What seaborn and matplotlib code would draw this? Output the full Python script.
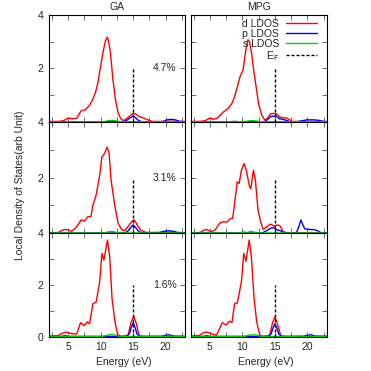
import pandas as pd
import seaborn as sns
import matplotlib.pyplot as plt
from matplotlib.lines import Line2D
from matplotlib.ticker import FixedLocator

# LDOS curves (energy in eV, LDOS in arb. units)
# GA, 4.7 %
ga47_d_e = [2.1, 3.5, 4.3, 5.0, 5.7, 6.3, 7.0, 7.6, 8.2, 8.7, 9.2, 9.6, 10.0, 10.4, 10.7, 11.0, 11.2, 11.5,
            11.9, 12.3, 12.7, 13.1, 13.5, 14.0, 14.5, 15.0, 15.4, 15.8, 16.2, 16.6, 17.2, 18.0, 19.0, 21.0, 23.0]
ga47_d = [0.02, 0.02, 0.05, 0.15, 0.12, 0.14, 0.42, 0.45, 0.6, 0.8, 1.1, 1.5, 2.1, 2.65, 3.0, 3.17, 3.05, 2.6,
          1.55, 0.8, 0.33, 0.12, 0.05, 0.13, 0.22, 0.33, 0.3, 0.22, 0.18, 0.15, 0.08, 0.02, 0.02, 0.03, 0.02]
ga47_p_e = [2.1, 13.5, 14.0, 14.5, 15.0, 15.4, 15.8, 16.3, 19.5, 20.2, 20.8, 21.5, 22.2, 23.0]
ga47_p = [0.01, 0.01, 0.06, 0.15, 0.22, 0.15, 0.06, 0.01, 0.01, 0.08, 0.1, 0.08, 0.02, 0.01]
ga47_s_e = [2.1, 10.5, 11.2, 11.8, 12.4, 13.0, 23.0]
ga47_s = [0.01, 0.01, 0.05, 0.06, 0.04, 0.01, 0.01]

# MPG, 4.7 %
mpg47_d_e = [2.1, 3.5, 4.3, 5.0, 5.6, 6.2, 7.0, 7.8, 8.4, 8.8, 9.2, 9.6, 10.1, 10.5, 10.85, 11.1, 11.4, 11.7,
             12.0, 12.5, 13.0, 13.5, 13.9, 14.3, 14.8, 15.3, 15.8, 16.3, 16.9, 17.3, 17.6, 18.5, 21.0, 23.0]
mpg47_d = [0.02, 0.02, 0.05, 0.15, 0.1, 0.15, 0.36, 0.5, 0.7, 0.95, 1.3, 1.67, 1.95, 2.65, 3.07, 3.0, 2.6, 2.0,
           1.5, 0.67, 0.24, 0.06, 0.15, 0.3, 0.32, 0.3, 0.18, 0.16, 0.14, 0.08, 0.02, 0.02, 0.02, 0.02]
mpg47_p_e = [2.1, 13.5, 14.0, 14.4, 15.2, 15.7, 16.2, 16.8, 17.3, 18.5, 19.2, 20.0, 21.0, 21.8, 22.5, 23.0]
mpg47_p = [0.01, 0.01, 0.12, 0.21, 0.22, 0.12, 0.1, 0.06, 0.01, 0.01, 0.05, 0.08, 0.08, 0.06, 0.02, 0.01]
mpg47_s_e = [2.1, 8.0, 8.8, 9.5, 10.5, 11.3, 12.0, 12.8, 23.0]
mpg47_s = [0.01, 0.01, 0.03, 0.01, 0.02, 0.05, 0.04, 0.01, 0.01]

# GA, 3.1 %
ga31_d_e = [2.1, 3.5, 4.0, 4.5, 5.0, 5.5, 6.2, 7.0, 7.5, 8.05, 8.5, 8.8, 9.3, 9.85, 10.2, 10.6, 11.0, 11.3,
            11.6, 12.2, 12.7, 13.3, 13.7, 14.2, 14.7, 15.1, 15.4, 15.7, 16.2, 17.0, 18.0, 20.0, 21.0, 23.0]
ga31_d = [0.02, 0.03, 0.1, 0.14, 0.12, 0.07, 0.2, 0.48, 0.44, 0.6, 0.6, 1.01, 1.37, 2.09, 2.75, 2.87, 3.1, 2.87,
          1.91, 0.95, 0.35, 0.11, 0.1, 0.24, 0.4, 0.48, 0.4, 0.26, 0.11, 0.03, 0.03, 0.04, 0.04, 0.02]
ga31_p_e = [2.1, 13.6, 14.2, 14.6, 15.0, 15.4, 15.8, 16.3, 19.0, 19.6, 20.5, 21.3, 21.8, 23.0]
ga31_p = [0.01, 0.01, 0.08, 0.2, 0.3, 0.2, 0.08, 0.01, 0.01, 0.07, 0.09, 0.07, 0.02, 0.01]
ga31_s_e = [2.1, 10.5, 11.3, 11.8, 12.4, 13.0, 23.0]
ga31_s = [0.01, 0.01, 0.06, 0.07, 0.03, 0.01, 0.01]

# MPG, 3.1 %
mpg31_d_e = [2.1, 3.5, 4.0, 4.5, 5.2, 5.8, 6.5, 7.05, 7.6, 8.05, 8.5, 8.8, 9.2, 9.5, 9.85, 10.25, 10.6, 11.1,
             11.3, 11.7, 12.0, 12.4, 12.8, 13.2, 13.8, 14.3, 14.9, 15.4, 15.8, 16.3, 17.0, 20.0, 23.0]
mpg31_d = [0.02, 0.03, 0.1, 0.14, 0.05, 0.12, 0.36, 0.42, 0.4, 0.51, 0.54, 1.07, 1.85, 1.79, 2.27, 2.51, 2.27, 1.67,
           1.6, 2.27, 1.91, 0.84, 0.42, 0.14, 0.24, 0.33, 0.26, 0.3, 0.26, 0.05, 0.02, 0.02, 0.02]
mpg31_p_e = [2.1, 13.0, 13.8, 14.3, 14.8, 15.3, 15.8, 16.3, 16.7, 18.3, 18.7, 19.0, 19.3, 19.6, 20.2, 21.0,
             21.5, 22.0, 23.0]
mpg31_p = [0.01, 0.01, 0.1, 0.18, 0.2, 0.12, 0.1, 0.03, 0.01, 0.01, 0.25, 0.48, 0.3, 0.16, 0.14, 0.13,
           0.1, 0.03, 0.01]
mpg31_s_e = [2.1, 9.5, 10.2, 10.7, 11.3, 11.8, 12.3, 23.0]
mpg31_s = [0.01, 0.01, 0.05, 0.02, 0.07, 0.04, 0.01, 0.01]

# GA, 1.6 %
ga16_d_e = [2.1, 3.4, 4.0, 4.7, 5.5, 6.3, 6.9, 7.5, 7.95, 8.3, 8.8, 9.3, 9.85, 10.2, 10.5, 10.9, 11.05, 11.4,
            11.75, 12.2, 12.6, 13.0, 14.2, 14.7, 15.1, 15.5, 15.9, 16.5, 23.0]
ga16_d = [0.02, 0.04, 0.12, 0.18, 0.12, 0.1, 0.54, 0.43, 0.57, 0.5, 1.28, 1.33, 2.12, 3.22, 2.96, 3.54, 3.74, 3.05,
          1.47, 0.58, 0.1, 0.01, 0.04, 0.57, 0.79, 0.5, 0.04, 0.01, 0.01]
ga16_p_e = [2.1, 4.0, 4.5, 5.0, 13.8, 14.4, 14.7, 15.0, 15.3, 15.6, 16.1, 19.3, 20.0, 20.6, 21.2, 23.0]
ga16_p = [0.01, 0.01, 0.04, 0.01, 0.01, 0.1, 0.35, 0.54, 0.35, 0.1, 0.01, 0.01, 0.06, 0.07, 0.02, 0.01]
ga16_s_e = [2.1, 10.3, 11.0, 11.6, 12.3, 12.8, 23.0]
ga16_s = [0.01, 0.01, 0.06, 0.08, 0.06, 0.01, 0.01]

# MPG, 1.6 %
mpg16_d_e = [2.1, 3.4, 4.0, 4.5, 5.2, 6.0, 6.9, 7.5, 8.0, 8.4, 8.8, 9.2, 9.85, 10.2, 10.55, 11.05, 11.4, 11.8,
             12.2, 12.7, 13.2, 14.2, 14.6, 15.0, 15.4, 15.9, 16.5, 23.0]
mpg16_d = [0.02, 0.05, 0.15, 0.18, 0.12, 0.05, 0.54, 0.45, 0.6, 0.55, 1.28, 1.3, 2.12, 3.22, 2.92, 3.74, 3.05, 1.47,
           0.58, 0.04, 0.01, 0.04, 0.5, 0.77, 0.5, 0.04, 0.01, 0.01]
mpg16_p_e = [2.1, 4.0, 4.5, 5.0, 13.8, 14.4, 14.7, 15.0, 15.3, 15.6, 16.1, 19.3, 20.0, 20.6, 21.2, 23.0]
mpg16_p = [0.01, 0.01, 0.04, 0.01, 0.01, 0.1, 0.33, 0.5, 0.33, 0.1, 0.01, 0.01, 0.06, 0.07, 0.02, 0.01]
mpg16_s_e = [2.1, 10.3, 11.0, 11.6, 12.3, 12.8, 23.0]
mpg16_s = [0.01, 0.01, 0.06, 0.07, 0.06, 0.01, 0.01]

orbitals = ['d LDOS', 'p LDOS', 's LDOS']
colors = ['#ff0000', '#0000ff', '#00d000']
strain_labels = ['4.7%', '3.1%', '1.6%']
fermi_energy = 15.0
fermi_height = 2.0


def panel_frame(e_d, d, e_p, p, e_s, s):
    parts = []
    for name, e, v in zip(orbitals, (e_d, e_p, e_s), (d, p, s)):
        parts.append(pd.DataFrame({'energy': e, 'ldos': v, 'orbital': name}))
    return pd.concat(parts, ignore_index=True)


sns.set_style('ticks')
plt.rcParams['font.family'] = ['Liberation Sans', 'DejaVu Sans']
plt.rcParams['font.size'] = 7.5

fig = plt.figure(figsize=(3.71, 3.71), dpi=100)

# axes rectangles (left, bottom, width, height) for the 3x2 stack
cols = [0.133, 0.515]
width = 0.366
rows = [(0.6712, 0.2884), (0.3712, 0.300), (0.0925, 0.2787)]

frames = [
    [panel_frame(ga47_d_e, ga47_d, ga47_p_e, ga47_p, ga47_s_e, ga47_s),
     panel_frame(mpg47_d_e, mpg47_d, mpg47_p_e, mpg47_p, mpg47_s_e, mpg47_s)],
    [panel_frame(ga31_d_e, ga31_d, ga31_p_e, ga31_p, ga31_s_e, ga31_s),
     panel_frame(mpg31_d_e, mpg31_d, mpg31_p_e, mpg31_p, mpg31_s_e, mpg31_s)],
    [panel_frame(ga16_d_e, ga16_d, ga16_p_e, ga16_p, ga16_s_e, ga16_s),
     panel_frame(mpg16_d_e, mpg16_d, mpg16_p_e, mpg16_p, mpg16_s_e, mpg16_s)],
]

axes = []
for r, (bottom, height) in enumerate(rows):
    for c, left in enumerate(cols):
        ax = fig.add_axes([left, bottom, width, height])
        axes.append(ax)
        sns.lineplot(data=frames[r][c], x='energy', y='ldos', hue='orbital', hue_order=orbitals,
                     palette=colors, estimator=None, sort=False, legend=False, lw=1.0, ax=ax)
        ax.plot([fermi_energy, fermi_energy], [0, fermi_height], color='black', lw=1.0,
                dashes=(2.2, 1.4))
        ax.set_xlim(2.1, 23.0)
        ax.set_ylim(0, 4)
        ax.set_xlabel('')
        ax.set_ylabel('')
        ax.xaxis.set_major_locator(FixedLocator([5, 10, 15, 20]))
        ax.xaxis.set_minor_locator(FixedLocator([2.5, 7.5, 12.5, 17.5, 22.5]))
        ax.set_yticks([0, 1, 2, 3, 4])
        if r == 2:
            ax.set_yticklabels(['0', '', '2', '', '4'])
        else:
            ax.set_yticklabels(['', '', '2', '', '4'])
        ax.tick_params(which='both', direction='in', top=True, right=True, length=3.5,
                       width=0.6, color='#555555', labelsize=7.5, pad=4)
        ax.tick_params(labelbottom=(r == 2), labelleft=(c == 0))
        for sp in ax.spines.values():
            sp.set_linewidth(0.8)
            sp.set_color('black')
        if c == 0:
            ax.text(21.7, 2.0, strain_labels[r], ha='right', va='center', fontsize=7.5)

fig.text(0.316, 0.982, 'GA', ha='center', va='center', fontsize=7.5)
fig.text(0.698, 0.982, 'MPG', ha='center', va='center', fontsize=7.5)
fig.text(0.333, 0.023, 'Energy (eV)', ha='center', va='center', fontsize=7.5)
fig.text(0.716, 0.023, 'Energy (eV)', ha='center', va='center', fontsize=7.5)
fig.text(0.054, 0.5, 'Local Density of States(arb Unit)', ha='center', va='center',
         rotation=90, fontsize=7.5)

handles = [Line2D([], [], color=col, lw=1.0) for col in colors]
handles.append(Line2D([], [], color='black', lw=1.0, dashes=(2.2, 1.4)))
labels = orbitals + ['E$_{\\mathregular{F}}$']
axes[1].legend(handles, labels, loc='upper right', bbox_to_anchor=(0.925, 0.965), frameon=False,
               markerfirst=False, handlelength=2.9, handletextpad=0.7, labelspacing=0.0,
               borderpad=0, borderaxespad=0, fontsize=7.5)

fig.savefig('out.png', dpi=100)
